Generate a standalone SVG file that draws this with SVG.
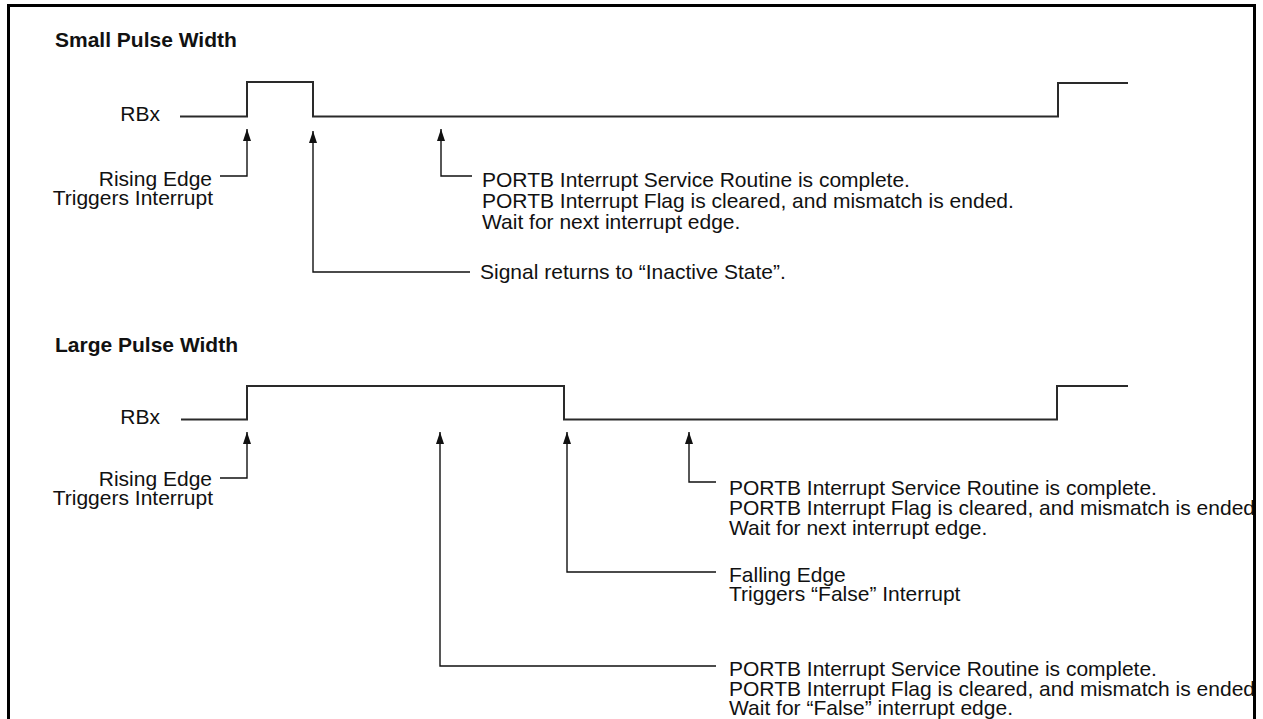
<svg xmlns="http://www.w3.org/2000/svg" width="1263" height="719" viewBox="0 0 1263 719">
  <style>
    .t { font-family: "Liberation Sans", Arial, sans-serif; font-size: 21px; fill: #111; }
    .h { font-family: "Liberation Sans", Arial, sans-serif; font-size: 21px; font-weight: bold; fill: #111; }
    .sig { fill: none; stroke: #2a2a2a; stroke-width: 2; }
    .lead { fill: none; stroke: #111; stroke-width: 1.4; }
  </style>
  <defs>
    <marker id="ah" viewBox="0 0 12 8" refX="12" refY="4" markerWidth="12" markerHeight="8" markerUnits="userSpaceOnUse" orient="auto">
      <path d="M0,0 L12,4 L0,8 Z" fill="#111"/>
    </marker>
    <clipPath id="frame"><rect x="0" y="0" width="1253" height="719"/></clipPath>
  </defs>
  <rect width="1263" height="719" fill="#fff"/>

  <!-- Small pulse width -->
  <g id="small-pulse" clip-path="url(#frame)">
    <text class="h" x="55" y="47">Small Pulse Width</text>
    <text class="t" x="160" y="121" text-anchor="end">RBx</text>
    <path class="sig" d="M180,116.5 H247 V82 H313 V116.5 H1058 V83 H1128"/>
  </g>
  <g id="small-rising">
    <text class="t" x="212" y="186" text-anchor="end">Rising Edge</text>
    <text class="t" x="213" y="205" text-anchor="end">Triggers Interrupt</text>
  </g>
  <g id="small-isr">
    <text class="t" x="482" y="187">PORTB Interrupt Service Routine is complete.</text>
    <text class="t" x="482" y="208">PORTB Interrupt Flag is cleared, and mismatch is ended.</text>
    <text class="t" x="482" y="229">Wait for next interrupt edge.</text>
  </g>
  <g id="small-return">
    <text class="t" x="480" y="279">Signal returns to “Inactive State”.</text>
  </g>

  <!-- Large pulse width -->
  <g id="large-pulse">
    <text class="h" x="55" y="352">Large Pulse Width</text>
    <text class="t" x="160" y="424" text-anchor="end">RBx</text>
    <path class="sig" d="M181,419.5 H247 V386 H564 V419.5 H1057 V386 H1128"/>
  </g>
  <g id="large-rising">
    <text class="t" x="212" y="486" text-anchor="end">Rising Edge</text>
    <text class="t" x="213" y="505" text-anchor="end">Triggers Interrupt</text>
  </g>
  <g id="large-isr" clip-path="url(#frame)">
    <text class="t" x="729" y="495">PORTB Interrupt Service Routine is complete.</text>
    <text class="t" x="729" y="515">PORTB Interrupt Flag is cleared, and mismatch is ended.</text>
    <text class="t" x="729" y="535">Wait for next interrupt edge.</text>
  </g>
  <g id="large-falling">
    <text class="t" x="729" y="582">Falling Edge</text>
    <text class="t" x="729" y="601">Triggers “False” Interrupt</text>
  </g>
  <g id="large-isr-false" clip-path="url(#frame)">
    <text class="t" x="729" y="676">PORTB Interrupt Service Routine is complete.</text>
    <text class="t" x="729" y="696">PORTB Interrupt Flag is cleared, and mismatch is ended.</text>
    <text class="t" x="729" y="715">Wait for “False” interrupt edge.</text>
  </g>

  <!-- Callout leaders -->
  <g id="connectors">
    <path class="lead" d="M220,176 H247 V129" marker-end="url(#ah)"/>
    <path class="lead" d="M470,272 H313 V131" marker-end="url(#ah)"/>
    <path class="lead" d="M472,176 H441 V129" marker-end="url(#ah)"/>
    <path class="lead" d="M220,478 H247 V432" marker-end="url(#ah)"/>
    <path class="lead" d="M716,482 H689 V432" marker-end="url(#ah)"/>
    <path class="lead" d="M716,572 H567 V432" marker-end="url(#ah)"/>
    <path class="lead" d="M716,666 H440 V432" marker-end="url(#ah)"/>
  </g>

  <!-- Frame (open at the bottom) -->
  <path d="M8.5,719 V5.5 H1254.5 V719" fill="none" stroke="#000" stroke-width="3"/>
</svg>
